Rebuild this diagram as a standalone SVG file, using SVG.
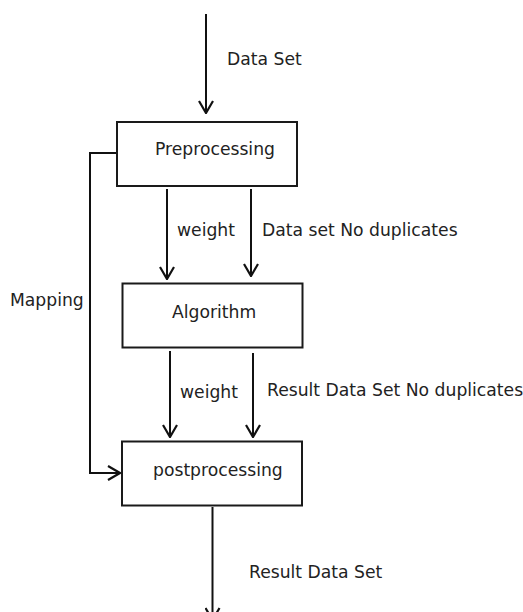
<svg xmlns="http://www.w3.org/2000/svg" width="523" height="612" viewBox="0 0 523 612">
<style>
.box{fill:#fff;stroke:#1a1a1a;stroke-width:2}
.ln{fill:none;stroke:#111;stroke-width:2}
text{font-family:"DejaVu Sans",sans-serif;font-size:17.2px;fill:#222}
</style>
<defs>
<marker id="ah" viewBox="0 0 14 16" refX="13" refY="8" markerWidth="14" markerHeight="16" markerUnits="userSpaceOnUse" orient="auto">
<path d="M1,1 L13,8 L1,15" fill="none" stroke="#111" stroke-width="2.2"/>
</marker>
</defs>
<rect width="523" height="612" fill="#fff"/>
<g id="connectors">
<line class="ln" x1="206" y1="14" x2="206" y2="113" marker-end="url(#ah)"/>
<line class="ln" x1="167" y1="189" x2="167" y2="279" marker-end="url(#ah)"/>
<line class="ln" x1="251" y1="189" x2="251" y2="276" marker-end="url(#ah)"/>
<line class="ln" x1="170" y1="351" x2="170" y2="437" marker-end="url(#ah)"/>
<line class="ln" x1="253" y1="353" x2="253" y2="437" marker-end="url(#ah)"/>
<polyline class="ln" points="116,153 90,153 90,473 120,473" marker-end="url(#ah)"/>
<line class="ln" x1="212.5" y1="507" x2="212.5" y2="620" marker-end="url(#ah)"/>
<text x="227" y="65">Data Set</text>
<text x="177" y="236">weight</text>
<text x="262" y="236">Data set No duplicates</text>
<text x="10" y="306">Mapping</text>
<text x="180" y="398">weight</text>
<text x="267" y="396">Result Data Set No duplicates</text>
<text x="249" y="578">Result Data Set</text>
</g>
<g id="preprocessing">
<rect class="box" x="117" y="122" width="180" height="64"/>
<text x="155" y="155">Preprocessing</text>
</g>
<g id="algorithm">
<rect class="box" x="122.5" y="283.5" width="180" height="64"/>
<text x="172" y="318">Algorithm</text>
</g>
<g id="postprocessing">
<rect class="box" x="122" y="441.5" width="180" height="64"/>
<text x="153" y="476">postprocessing</text>
</g>
</svg>
